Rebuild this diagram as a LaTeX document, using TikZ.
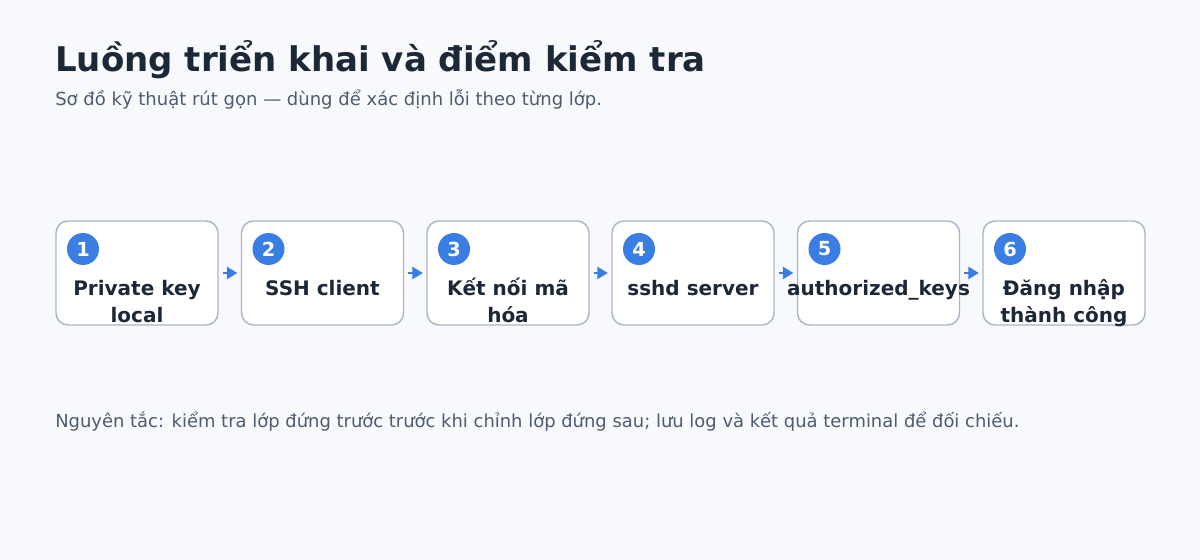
\documentclass[tikz,border=0pt]{standalone}
\usepackage{fontspec}
\setmainfont{DejaVu Sans}
\usetikzlibrary{arrows.meta}
\definecolor{pagebg}{HTML}{F7F9FC}
\definecolor{boxline}{HTML}{AAB6C8}
\definecolor{stepblue}{HTML}{3A7DE3}
\definecolor{inkdark}{HTML}{1C2737}
\definecolor{inkgrey}{HTML}{4E5C70}
\tikzset{
  stepbox/.style={draw=boxline, fill=white, line width=1.1pt, rounded corners=9pt,
    minimum width=121.5pt, minimum height=78pt, inner sep=0pt},
  stepnum/.style={circle, fill=stepblue, text=white, minimum size=24pt, inner sep=0pt,
    font=\fontsize{14.5}{16}\selectfont\bfseries},
  steplbl/.style={anchor=base, align=center, text=inkdark, inner sep=0pt,
    font=\fontsize{15}{20.25}\selectfont\bfseries},
  flow/.style={draw=stepblue, line width=2pt, -{Triangle[length=8pt,width=9pt]},
    shorten <=3pt, shorten >=2.5pt},
}
\begin{document}
\begin{tikzpicture}[x=0.75pt,y=0.75pt,yscale=-1]
%Shape: Background [id:bg]
\fill [pagebg] (0,0) rectangle (1200,560);
\useasboundingbox (0,0) rectangle (1200,560);

% Text Node
\node (title) [anchor=base west, inner sep=0pt, text=inkdark, font=\fontsize{25.5}{30}\selectfont\bfseries] at (55,72) {Luồng triển khai và điểm kiểm tra};
% Text Node
\node (subtitle) [anchor=base west, inner sep=0pt, text=inkgrey, font=\fontsize{13.5}{16}\selectfont] at (55,105) {Sơ đồ kỹ thuật rút gọn — dùng để xác định lỗi theo từng lớp.};

%Shape: Rounded Rect [id:box1]
\node (box1) [stepbox] at (137,273) {};
%Shape: Rounded Rect [id:box2]
\node (box2) [stepbox] at (322.5,273) {};
%Shape: Rounded Rect [id:box3]
\node (box3) [stepbox] at (508,273) {};
%Shape: Rounded Rect [id:box4]
\node (box4) [stepbox] at (693,273) {};
%Shape: Rounded Rect [id:box5]
\node (box5) [stepbox] at (878.5,273) {};
%Shape: Rounded Rect [id:box6]
\node (box6) [stepbox] at (1064,273) {};

%Shape: Circle [id:num1]
\node (num1) [stepnum] at (83,249) {1};
%Shape: Circle [id:num2]
\node (num2) [stepnum] at (268.5,249) {2};
%Shape: Circle [id:num3]
\node (num3) [stepnum] at (454,249) {3};
%Shape: Circle [id:num4]
\node (num4) [stepnum] at (639,249) {4};
%Shape: Circle [id:num5]
\node (num5) [stepnum] at (824.5,249) {5};
%Shape: Circle [id:num6]
\node (num6) [stepnum] at (1010,249) {6};

% Text Node (base = last line)
\node (lbl1) [steplbl] at (137,322) {Private key\\local};
% Text Node
\node (lbl2) [steplbl] at (322.5,295) {SSH client};
% Text Node
\node (lbl3) [steplbl] at (508,322) {Kết nối mã\\hóa};
% Text Node
\node (lbl4) [steplbl] at (693,295) {sshd server};
% Text Node
\node (lbl5) [steplbl] at (878.5,295) {authorized\_keys};
% Text Node
\node (lbl6) [steplbl] at (1064,322) {Đăng nhập\\thành công};

%Straight Lines [id:flow]
\draw [flow] (box1) -- (box2);
\draw [flow] (box2) -- (box3);
\draw [flow] (box3) -- (box4);
\draw [flow] (box4) -- (box5);
\draw [flow] (box5) -- (box6);

% Text Node
\node (note) [anchor=base west, inner sep=0pt, text=inkgrey, font=\fontsize{13.45}{16}\selectfont] at (55,427) {Nguyên tắc: kiểm tra lớp đứng trước trước khi chỉnh lớp đứng sau; lưu log và kết quả terminal để đối chiếu.};

\end{tikzpicture}
\end{document}
